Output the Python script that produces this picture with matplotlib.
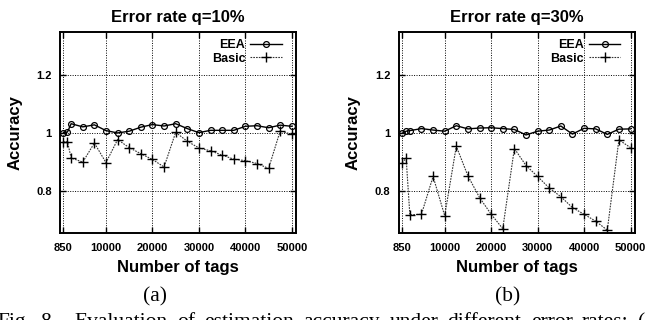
import matplotlib.pyplot as plt

plt.rcParams['font.family'] = ['Liberation Sans', 'DejaVu Sans']

# number of tags
tags = [850, 1700, 2500, 5000, 7500, 10000, 12500, 15000, 17500, 20000, 22500,
        25000, 27500, 30000, 32500, 35000, 37500, 40000, 42500, 45000, 47500, 50000]

# q = 10%
eea_10 = [1.001, 1.003, 1.032, 1.021, 1.028, 1.008, 1.000, 1.006, 1.020, 1.029, 1.024,
          1.032, 1.015, 1.001, 1.009, 1.009, 1.009, 1.023, 1.025, 1.018, 1.027, 1.023]
basic_10 = [0.968, 0.970, 0.913, 0.899, 0.965, 0.897, 0.977, 0.949, 0.928, 0.908, 0.882,
            1.002, 0.971, 0.948, 0.938, 0.923, 0.909, 0.904, 0.894, 0.877, 1.007, 0.995]

# q = 30%
eea_30 = [0.999, 1.006, 1.008, 1.015, 1.010, 1.006, 1.025, 1.014, 1.017, 1.018, 1.015,
          1.012, 0.993, 1.006, 1.010, 1.024, 0.996, 1.016, 1.014, 0.995, 1.013, 1.014]
basic_30 = [0.896, 0.913, 0.716, 0.718, 0.849, 0.713, 0.954, 0.851, 0.776, 0.718, 0.668,
            0.946, 0.887, 0.849, 0.809, 0.779, 0.741, 0.718, 0.694, 0.663, 0.976, 0.949]

xticks = [850, 10000, 20000, 30000, 40000, 50000]
yticks = [0.8, 1.0, 1.2]
ytick_labels = ['0.8', '1', '1.2']

panels = [
    ('Error rate q=10%', eea_10, basic_10),
    ('Error rate q=30%', eea_30, basic_30),
]

caption = 'Fig. 8. Evaluation of estimation accuracy under different error rates: ('

fig = plt.figure(figsize=(6.47, 3.2), dpi=100)
W, H = 647, 320
lefts = [60 / W, 398.7 / W]

for left, (title, eea, basic) in zip(lefts, panels):
    ax = fig.add_axes([left, 87 / H, 236 / W, 201 / H])
    ax.plot(tags, eea, color='black', linewidth=1.0, marker='o', markersize=4.2,
            markerfacecolor='none', markeredgewidth=0.9, label='EEA')
    ax.plot(tags, basic, color='#333333', linewidth=0.8, linestyle=(0, (1.5, 1)),
            marker='+', markersize=6.5, markeredgecolor='black', markeredgewidth=1.0,
            label='Basic')
    ax.set_xlim(100, 50900)
    ax.set_ylim(0.653, 1.35)
    ax.set_xticks(xticks)
    ax.set_xticklabels([str(t) for t in xticks], fontweight='bold', fontsize=8)
    ax.set_yticks(yticks)
    ax.set_yticklabels(ytick_labels, fontweight='bold', fontsize=8)
    ax.tick_params(direction='in', length=4, width=1.0, top=True, right=True)
    ax.tick_params(axis='x', pad=7)
    ax.tick_params(axis='y', pad=6)
    ax.grid(True, color='black', linestyle=(0, (1, 1.5)), linewidth=0.7)
    for s in ax.spines.values():
        s.set_linewidth(1.4)
    ax.set_title(title, fontweight='bold', fontsize=12, pad=7)
    ax.set_xlabel('Number of tags', fontweight='bold', fontsize=12, labelpad=5)
    ax.set_ylabel('Accuracy', fontweight='bold', fontsize=12, labelpad=10)
    leg = ax.legend(loc='upper right', bbox_to_anchor=(1 - 5 / 236, 1 + 2 / 201),
                    markerfirst=False, frameon=False,
                    prop={'weight': 'bold', 'size': 9}, handlelength=2.5,
                    handletextpad=0.4, labelspacing=0.1, borderaxespad=0.35)
    for t in leg.get_texts():
        t.set_ha('right')

serif = ['Liberation Serif', 'DejaVu Serif']
fig.text(155 / W, 1 - 297 / H, '(a)', family=serif, fontsize=15.5,
         ha='center', va='center')
fig.text(508 / W, 1 - 297 / H, '(b)', family=serif, fontsize=15.5,
         ha='center', va='center')

# justified caption line, cut by the bottom edge as in the source
words = caption.split(' ')
renderer = fig.canvas.get_renderer()
texts = [fig.text(0, (H - 327) / H, w, family=serif, fontsize=15.5,
                  ha='left', va='baseline') for w in words]
widths = [t.get_window_extent(renderer).width for t in texts]
x0, x1 = -3, 645
n_gaps = len(words) - 1 + 1  # extra gap after "Fig. 8."
gap = (x1 - x0 - sum(widths)) / n_gaps
x = x0
for i, (t, w) in enumerate(zip(texts, widths)):
    t.set_x(x / W)
    x += w + gap
    if i == 1:
        x += gap

fig.savefig('out.png', dpi=100)
